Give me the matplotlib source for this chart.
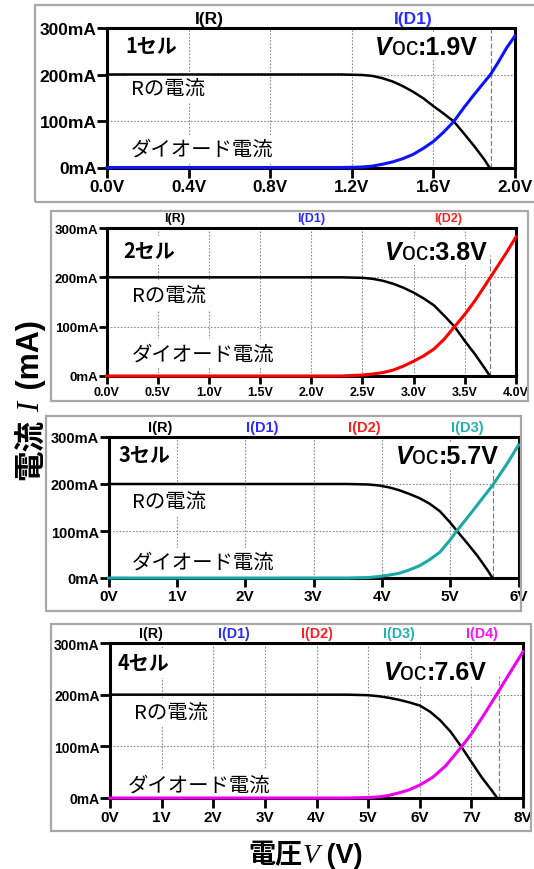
import matplotlib
matplotlib.use("Agg")
import matplotlib.pyplot as plt
from matplotlib.patches import Rectangle
from matplotlib.offsetbox import TextArea, HPacker, AnnotationBbox

W, H = 534, 870
JP = ["Noto Sans CJK JP", "DejaVu Sans"]
SANS = ["Liberation Sans", "DejaVu Sans"]
SERIF = ["Liberation Serif", "DejaVu Serif"]

# ---- data -------------------------------------------------------------
y_ticks = [0, 100, 200, 300]
y_tick_labels = ["0mA", "100mA", "200mA", "300mA"]

# 1 cell
x_ticks_1 = [0.0, 0.4, 0.8, 1.2, 1.6, 2.0]
x_labels_1 = ["0.0V", "0.4V", "0.8V", "1.2V", "1.6V", "2.0V"]
v_r1 = [0.0, 1.15, 1.25, 1.3, 1.35, 1.4, 1.45, 1.5, 1.55, 1.6, 1.65, 1.7,
        1.75, 1.8, 1.85, 1.875]
i_r1 = [200, 200, 199, 197, 192, 185, 175, 163, 149, 132, 116, 99,
        73, 46, 17, 0]
v_d1 = [0.0, 1.15, 1.25, 1.3, 1.35, 1.4, 1.45, 1.5, 1.55, 1.6, 1.65, 1.7,
        1.75, 1.8, 1.85, 1.88, 1.92, 1.96, 2.0]
i_d1 = [0, 0, 1, 3, 7, 12, 19, 28, 41, 56, 76, 99,
        129, 157, 184, 200, 228, 258, 283]

# 2 cells
x_ticks_2 = [0.0, 0.5, 1.0, 1.5, 2.0, 2.5, 3.0, 3.5, 4.0]
x_labels_2 = ["0.0V", "0.5V", "1.0V", "1.5V", "2.0V", "2.5V", "3.0V", "3.5V", "4.0V"]
v_r2 = [0.0, 2.3, 2.5, 2.6, 2.7, 2.8, 2.9, 3.0, 3.1, 3.2, 3.3, 3.4,
        3.5, 3.6, 3.7, 3.745]
i_r2 = [200, 200, 199, 197, 193, 187, 179, 169, 157, 143, 122, 100,
        71, 44, 14, 0]
v_d2 = [0.0, 2.3, 2.5, 2.6, 2.7, 2.8, 2.9, 3.0, 3.1, 3.2, 3.3, 3.4,
        3.5, 3.6, 3.75, 3.9, 4.0]
i_d2 = [0, 0, 2, 4, 7, 12, 20, 30, 41, 55, 75, 100,
        125, 153, 200, 248, 282]

# 3 cells
x_ticks_3 = [0, 1, 2, 3, 4, 5, 6]
x_labels_3 = ["0V", "1V", "2V", "3V", "4V", "5V", "6V"]
v_r3 = [0.0, 3.5, 3.8, 3.95, 4.1, 4.25, 4.4, 4.55, 4.7, 4.85, 5.0, 5.1,
        5.25, 5.4, 5.55, 5.62]
i_r3 = [200, 200, 199, 197, 193, 187, 179, 170, 158, 142, 118, 100,
        74, 47, 16, 0]
v_d3 = [0.0, 3.5, 3.8, 3.95, 4.1, 4.25, 4.4, 4.55, 4.7, 4.85, 5.0, 5.1,
        5.25, 5.4, 5.63, 5.85, 6.0]
i_d3 = [0, 0, 1, 3, 6, 10, 17, 26, 39, 55, 81, 101,
        128, 156, 199, 247, 283]

# 4 cells
x_ticks_4 = [0, 1, 2, 3, 4, 5, 6, 7, 8]
x_labels_4 = ["0V", "1V", "2V", "3V", "4V", "5V", "6V", "7V", "8V"]
v_r4 = [0.0, 4.6, 5.0, 5.2, 5.4, 5.6, 5.8, 6.0, 6.2, 6.4, 6.6, 6.8,
        7.0, 7.2, 7.4, 7.5]
i_r4 = [200, 200, 199, 197, 194, 190, 185, 179, 167, 150, 128, 100,
        70, 40, 14, 0]
v_d4 = [0.0, 4.6, 5.0, 5.2, 5.4, 5.6, 5.8, 6.0, 6.25, 6.5, 6.8, 7.0,
        7.25, 7.5, 7.75, 8.0]
i_d4 = [0, 0, 1, 2, 5, 10, 16, 25, 40, 62, 98, 124,
        162, 202, 243, 283]

cell_labels = ["1セル", "2セル", "3セル", "4セル"]
voc_values = ["1.9V", "3.8V", "5.7V", "7.6V"]
voc_line = [1.88, 3.75, 5.63, 7.53]          # open-circuit marker position
voc_line_top = [300, 245, 238, 236]           # upper end of the marker (mA)
trace_names = ["I(R)", "I(D1)", "I(D2)", "I(D3)", "I(D4)"]
trace_colors = ["#000000", "#2b2bff", "#ff1f1f", "#22b0b0", "#ff10ff"]
curve_colors = ["#0a14ff", "#ff0000", "#1aa8a8", "#ee00ee"]

panels = [
    dict(xt=x_ticks_1, xl=x_labels_1, vr=v_r1, ir=i_r1, vd=v_d1, idd=i_d1),
    dict(xt=x_ticks_2, xl=x_labels_2, vr=v_r2, ir=i_r2, vd=v_d2, idd=i_d2),
    dict(xt=x_ticks_3, xl=x_labels_3, vr=v_r3, ir=i_r3, vd=v_d3, idd=i_d3),
    dict(xt=x_ticks_4, xl=x_labels_4, vr=v_r4, ir=i_r4, vd=v_d4, idd=i_d4),
]

# ---- layout (pixels, measured from the top-left corner) ----------------
axes_px = [(107, 515, 29, 168.5), (106.5, 516, 229, 377),
           (108.5, 518.5, 438, 579), (110, 523, 644, 799)]
frame_px = [(35, 545, 5.5, 203), (51, 528, 212, 402),
            (46, 521, 417, 612), (51, 531, 624.5, 832)]
tick_font = [(12.3, 12.5), (9.0, 9.5), (11.0, 10.5), (11.0, 10.0)]
top_font = [12.5, 9.0, 10.5, 10.3]
tick_len = [7, 5.5, 6.5, 7]
cell_pos = [(0.046, 0.874), (0.041, 0.85), (0.025, 0.876), (0.018, 0.872)]
r_pos = [(0.059, 0.57), (0.062, 0.545), (0.058, 0.545), (0.059, 0.553)]
d_pos = [(0.059, 0.13), (0.062, 0.15), (0.058, 0.11), (0.043, 0.086)]
voc_pos = [(0.657, 0.866), (0.68, 0.838), (0.70, 0.864), (0.663, 0.81)]

fig = plt.figure(figsize=(W / 100, H / 100), dpi=100)
fig.patch.set_facecolor("white")


def frac_rect(l, r, t, b):
    return [l / W, 1 - b / H, (r - l) / W, (b - t) / H]


for k, p in enumerate(panels):
    fl, fr, ft, fb = frame_px[k]
    x0, y0, w, h = frac_rect(fl, fr, ft, fb)
    fig.add_artist(Rectangle((x0, y0), w, h, transform=fig.transFigure,
                             fill=False, edgecolor="#a8a8a8", lw=1.6))

    ax = fig.add_axes(frac_rect(*axes_px[k]))
    xmax = p["xt"][-1]
    ax.set_xlim(0, xmax)
    ax.set_ylim(0, 300)
    ax.set_xticks(p["xt"])
    ax.set_xticklabels(p["xl"])
    ax.set_yticks(y_ticks)
    ax.set_yticklabels(y_tick_labels)
    xf, yf = tick_font[k]
    ax.tick_params(axis="x", labelsize=xf, length=tick_len[k], width=2.0,
                   direction="out", pad=1.5)
    ax.tick_params(axis="y", labelsize=yf, length=tick_len[k], width=2.0,
                   direction="out", pad=0.5)
    for lab in ax.get_xticklabels() + ax.get_yticklabels():
        lab.set_fontweight("bold")
        lab.set_fontfamily(SANS)
    for sp in ax.spines.values():
        sp.set_linewidth(2.2)
        sp.set_zorder(2.5)
    ax.grid(True, color="#8c8c8c", linestyle=(0, (1.5, 1.5)), lw=0.8)
    ax.set_axisbelow(True)

    # open-circuit voltage marker
    ax.plot([voc_line[k], voc_line[k]], [0, voc_line_top[k]], color="#808080",
            linestyle=(0, (4, 2)), lw=0.9, zorder=1.5)

    ax.plot(p["vr"], p["ir"], color="black", lw=1.8, clip_on=False, zorder=5)
    ax.plot(p["vd"], p["idd"], color=curve_colors[k], lw=2.2, clip_on=False,
            zorder=5.2)

    # trace names above the plot area
    n = k + 2
    for i in range(n):
        ax.annotate(trace_names[i], xy=((i + 0.5) / n, 1), xycoords="axes fraction",
                    xytext=(0, 7), textcoords="offset points", ha="center",
                    va="center", fontsize=top_font[k], fontweight="bold",
                    color=trace_colors[i], family=SANS, annotation_clip=False)

    box = dict(facecolor="white", edgecolor="none", pad=3)
    ax.text(*cell_pos[k], cell_labels[k], transform=ax.transAxes, ha="left",
            va="center", fontsize=14.4, fontweight="bold", family=JP,
            bbox=box, zorder=4)
    ax.text(*r_pos[k], "Rの電流", transform=ax.transAxes, ha="left",
            va="center", fontsize=14.7, family=JP, bbox=box, zorder=4)
    ax.text(*d_pos[k], "ダイオード電流", transform=ax.transAxes, ha="left",
            va="center", fontsize=14.7, family=JP, bbox=box, zorder=4)

    parts = [
        TextArea("V", textprops=dict(family=SANS, style="italic",
                                     weight="bold", size=18)),
        TextArea("oc", textprops=dict(family=SANS, weight="normal", size=18)),
        TextArea(":" + voc_values[k], textprops=dict(family=SANS,
                                                     weight="bold", size=18)),
    ]
    pack = HPacker(children=parts, align="baseline", pad=0, sep=0)
    ab = AnnotationBbox(pack, voc_pos[k], xycoords="axes fraction",
                        box_alignment=(0, 0.5), frameon=True, pad=0.1,
                        bboxprops=dict(facecolor="white", edgecolor="none"),
                        zorder=4)
    ax.add_artist(ab)

renderer = fig.canvas.get_renderer()

# vertical axis title, read bottom to top
ylab = [("電流", dict(family=JP, fontweight="bold", fontsize=22), 7),
        ("I", dict(family=SERIF, style="italic", fontsize=22), 4),
        (" (mA)", dict(family=SANS, fontweight="bold", fontsize=22), 0)]
y_cursor = H - 480
for s, props, gap in ylab:
    t = fig.text(39.5 / W, y_cursor / H, s, rotation=90, rotation_mode="anchor",
                 ha="left", va="baseline", **props)
    y_cursor += t.get_window_extent(renderer).height + gap

# horizontal axis title
xlab = [("電圧", dict(family=JP, fontweight="bold", fontsize=19.5)),
        ("V", dict(family=SERIF, style="italic", fontsize=20)),
        (" (V)", dict(family=SANS, fontweight="bold", fontsize=19.5))]
x_cursor = 248
for s, props in xlab:
    t = fig.text(x_cursor / W, (H - 863) / H, s, ha="left", va="baseline", **props)
    x_cursor += t.get_window_extent(renderer).width

fig.savefig("out.png", dpi=100, facecolor="white")
